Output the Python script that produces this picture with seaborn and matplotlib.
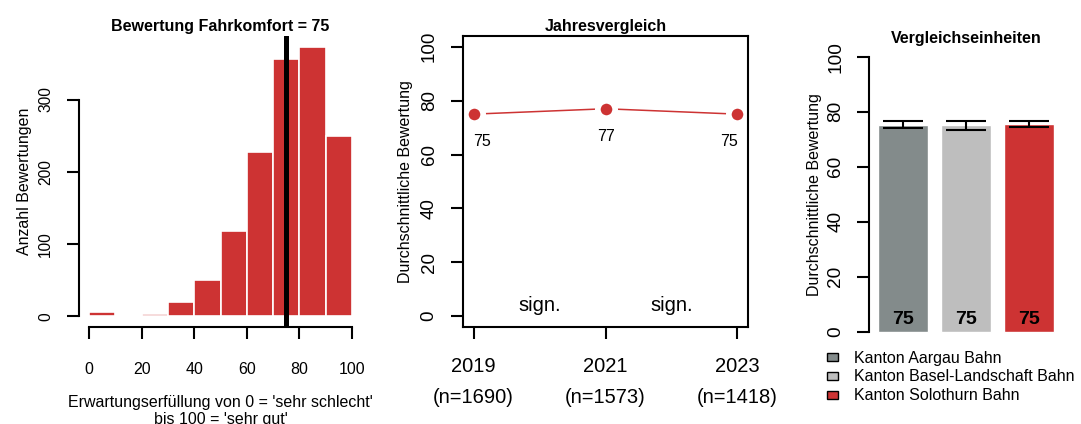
import pandas as pd
import matplotlib.pyplot as plt
import matplotlib.patches as mpatches
import seaborn as sns
import numpy as np

# Histogramm Fahrkomfort
bin_edges = [0, 10, 20, 30, 40, 50, 60, 70, 80, 90, 100]
bin_counts = [6, 0, 3, 20, 50, 118, 228, 356, 373, 249]
mean_rating = 75

# Jahresvergleich
years = ['2019', '2021', '2023']
year_n = [1690, 1573, 1418]
year_means = [75, 77, 75]
sig_labels = ['sign.', 'sign.']

# Vergleichseinheiten
units = ['Kanton Aargau Bahn', 'Kanton Basel-Landschaft Bahn', 'Kanton Solothurn Bahn']
unit_means = [75.2, 75.0, 75.4]
unit_lower = [74.2, 73.4, 74.6]
unit_upper = [76.6, 76.8, 76.7]
unit_colors = ['#838B8B', '#BEBEBE', '#CD3333']

RED = '#CD3333'
W, H = 1081, 424

sns.set_style('ticks')
plt.rcParams['font.family'] = ['Liberation Sans', 'DejaVu Sans']
for key in ['text.color', 'axes.labelcolor', 'xtick.color', 'ytick.color', 'axes.edgecolor']:
    plt.rcParams[key] = 'black'

fig = plt.figure(figsize=(W / 100, H / 100), dpi=100)


def add_axes_px(left, top, right, bottom):
    # Achsen in Pixelkoordinaten (y von oben)
    return fig.add_axes([left / W, 1 - bottom / H, (right - left) / W, (bottom - top) / H])


def style_axis(ax, x_size, y_size, x_pad, y_pad):
    ax.tick_params(axis='both', direction='out', length=8.6, width=1.5)
    ax.tick_params(axis='x', labelsize=x_size, pad=x_pad)
    ax.tick_params(axis='y', labelsize=y_size, pad=y_pad, labelrotation=90)
    for lbl in ax.get_yticklabels():
        lbl.set_va('center')
    for sp in ax.spines.values():
        sp.set_linewidth(1.5)


# --- Panel 1: Histogramm ---
ax1 = add_axes_px(78.5, 36, 362.5, 327)
mids = [(a + b) / 2 for a, b in zip(bin_edges[:-1], bin_edges[1:])]
sns.histplot(x=mids, weights=bin_counts, bins=bin_edges, ax=ax1, color=RED, alpha=1,
             edgecolor='white', linewidth=1.2)
ax1.axvline(mean_rating, color='black', linewidth=3.6)
ax1.set_xlim(-4, 104)
ax1.set_ylim(-14.9, 387.9)
ax1.set_xticks(range(0, 101, 20))
ax1.set_yticks(range(0, 301, 100))
style_axis(ax1, 11.5, 11.2, 16.5, 9.6)
for s in ['top', 'right']:
    ax1.spines[s].set_visible(False)
ax1.spines['left'].set_bounds(0, 300)
ax1.spines['bottom'].set_bounds(0, 100)
ax1.set_title(f'Bewertung Fahrkomfort = {mean_rating}', fontsize=11.5, fontweight='bold', pad=3.8)
ax1.set_ylabel('Anzahl Bewertungen', fontsize=11.5, labelpad=4.8)
ax1.set_xlabel("Erwartungserfüllung von 0 = 'sehr schlecht'\nbis 100 = 'sehr gut'",
               fontsize=11.5, labelpad=13, linespacing=1.15)

# --- Panel 2: Jahresvergleich ---
ax2 = add_axes_px(463, 36, 748, 327)
x_pos = np.arange(1, len(years) + 1)
sns.lineplot(x=x_pos, y=year_means, ax=ax2, color=RED, linewidth=1.1, marker='o',
             markersize=12.5, markerfacecolor=RED, markeredgecolor='white', markeredgewidth=4.1)
for i, (x, v) in enumerate(zip(x_pos, year_means)):
    ha = 'left' if i == 0 else ('right' if i == len(years) - 1 else 'center')
    ax2.text(x, v - 10.3, f'{v}', ha=ha, va='center', fontsize=11.5)
for i, lab in enumerate(sig_labels):
    ax2.text((x_pos[i] + x_pos[i + 1]) / 2, 4, lab, ha='center', va='center', fontsize=14.5)
ax2.set_xlim(0.92, 3.08)
ax2.set_ylim(-4, 104)
ax2.set_xticks(x_pos)
ax2.set_yticks(range(0, 101, 20))
style_axis(ax2, 14.5, 13.5, 13, 9.6)
ax2.set_xticklabels([f'{y}\n(n={n})' for y, n in zip(years, year_n)], linespacing=1.8)
ax2.set_title('Jahresvergleich', fontsize=11.5, fontweight='bold', pad=3.8)
ax2.set_ylabel('Durchschnittliche Bewertung', fontsize=11.5, labelpad=5.5)

# --- Panel 3: Vergleichseinheiten ---
ax3 = add_axes_px(869, 45.7, 1063, 342.7)
df_units = pd.DataFrame({'unit': units, 'mean': unit_means})
sns.barplot(data=df_units, x='unit', y='mean', hue='unit', palette=unit_colors, width=0.79,
            saturation=1, legend=False, ax=ax3)
means = np.array(unit_means)
ax3.errorbar(range(len(units)), means,
             yerr=[means - np.array(unit_lower), np.array(unit_upper) - means],
             fmt='none', ecolor='black', elinewidth=1.5, capsize=14.4, capthick=1.5)
for i, m in enumerate(unit_means):
    ax3.text(i, 4.3, f'{m:.0f}', ha='center', va='center', fontsize=14, fontweight='bold')
ax3.set_xlim(-0.54, 2.54)
ax3.set_ylim(-4, 104)
ax3.set_yticks(range(0, 101, 20))
style_axis(ax3, 11, 13.7, 10, 9.3)
ax3.set_xticks([])
ax3.set_xlabel('')
for s in ['top', 'right', 'bottom']:
    ax3.spines[s].set_visible(False)
ax3.spines['left'].set_bounds(0, 100)
ax3.set_title('Vergleichseinheiten', fontsize=11.5, fontweight='bold', pad=1.4)
ax3.set_ylabel('Durchschnittliche Bewertung', fontsize=11.5, labelpad=4)

handles = [mpatches.Patch(facecolor=c, edgecolor='black', linewidth=1) for c in unit_colors]
fig.legend(handles, units, loc='upper left', bbox_to_anchor=(827.3 / W, 1 - 350.5 / H),
           frameon=False, fontsize=11.5, handlelength=0.64, handleheight=0.42,
           handletextpad=1.05, labelspacing=0.25, borderpad=0, borderaxespad=0)

fig.savefig('out.png', dpi=100)
